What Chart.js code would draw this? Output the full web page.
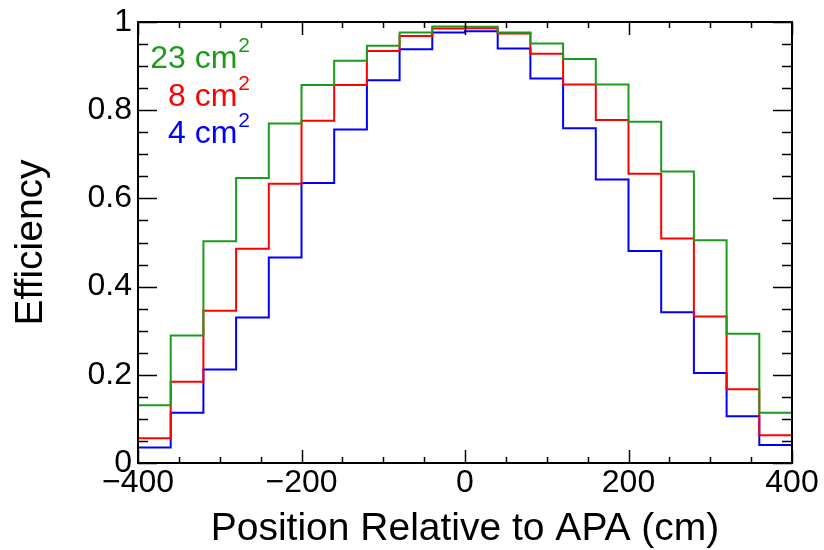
<!DOCTYPE html>
<html>
<head>
<meta charset="utf-8">
<script src="https://cdn.jsdelivr.net/npm/chart.js@4/dist/chart.umd.min.js"></script>
<style>
  html, body { margin: 0; padding: 0; background: #fff; }
  #wrap { width: 824px; height: 550px; }
</style>
</head>
<body>
<div id="wrap"><canvas id="canvas" width="824" height="550"></canvas></div>
<script>
// bin edges (cm), 20 bins of 40 cm
const binEdges = [-400, -360, -320, -280, -240, -200, -160, -120, -80, -40, 0, 40, 80, 120, 160, 200, 240, 280, 320, 360, 400];

const eff23 = [0.131, 0.289, 0.503, 0.646, 0.770, 0.857, 0.912, 0.946, 0.976, 0.990,
               0.989, 0.976, 0.951, 0.916, 0.858, 0.774, 0.661, 0.505, 0.293, 0.114];
const eff8  = [0.056, 0.184, 0.345, 0.486, 0.633, 0.776, 0.857, 0.934, 0.968, 0.985,
               0.986, 0.974, 0.928, 0.858, 0.778, 0.656, 0.509, 0.332, 0.167, 0.063];
const eff4  = [0.035, 0.114, 0.212, 0.330, 0.466, 0.635, 0.756, 0.868, 0.938, 0.976,
               0.979, 0.940, 0.872, 0.759, 0.643, 0.481, 0.342, 0.204, 0.106, 0.041];

const seriesNames = ["23 cm", "8 cm", "4 cm"];
const seriesSup = ["2", "2", "2"];
const seriesColors = ["#1c9a1c", "#ff0000", "#0000ff"];

const xTickValues = [-400, -200, 0, 200, 400];
const xTickLabels = ["\u2212400", "\u2212200", "0", "200", "400"];
const yTickLabels = ["0", "0.2", "0.4", "0.6", "0.8", "1"];

const FONT = "'Liberation Sans', Arial, Helvetica, sans-serif";

// histogram outline: points at the left edge of each bin, closed down to 0
function histPoints(vals) {
  const pts = [{ x: binEdges[0], y: 0 }];
  vals.forEach((v, i) => pts.push({ x: binEdges[i], y: v }));
  pts.push({ x: binEdges[binEdges.length - 1], y: vals[vals.length - 1] });
  pts.push({ x: binEdges[binEdges.length - 1], y: 0 });
  return pts;
}

const allSeries = [eff23, eff8, eff4];

// ROOT-like frame with ticks on all sides + text legend
const framePlugin = {
  id: "frame",
  afterDraw(chart) {
    const { ctx, chartArea: a, scales: { x, y } } = chart;
    ctx.save();
    ctx.strokeStyle = "#000";
    ctx.lineWidth = 1.5;
    ctx.beginPath();
    for (let v = -400; v <= 400; v += 50) {
      const px = Math.round(x.getPixelForValue(v)) + 0.5;
      const len = v % 200 === 0 ? 13 : 6;
      ctx.moveTo(px, a.bottom); ctx.lineTo(px, a.bottom - len);
      ctx.moveTo(px, a.top); ctx.lineTo(px, a.top + len);
    }
    for (let i = 0; i <= 20; i++) {
      const py = Math.round(y.getPixelForValue(i * 0.05)) + 0.5;
      const len = i % 4 === 0 ? 19 : 10;
      ctx.moveTo(a.left, py); ctx.lineTo(a.left + len, py);
      ctx.moveTo(a.right, py); ctx.lineTo(a.right - len, py);
    }
    ctx.stroke();
    ctx.lineWidth = 2;
    ctx.strokeRect(a.left, a.top, a.right - a.left, a.bottom - a.top);

    // legend text
    const rightX = a.left + 112;
    ctx.textBaseline = "alphabetic";
    chart.data.datasets.forEach((ds, i) => {
      const base = a.top + 46 + i * 37.5;
      ctx.fillStyle = ds.borderColor;
      ctx.font = "21px " + FONT;
      ctx.textAlign = "right";
      const supW = ctx.measureText(seriesSup[i]).width;
      ctx.fillText(seriesSup[i], rightX, base - 16);
      ctx.font = "32px " + FONT;
      ctx.fillText(ds.label, rightX - supW - 1, base);
    });
    ctx.restore();
  }
};

new Chart("canvas", {
  type: "line",
  data: {
    datasets: allSeries.map((vals, i) => ({
      label: seriesNames[i],
      data: histPoints(vals),
      borderColor: seriesColors[i],
      borderWidth: 2,
      stepped: "before",
      pointRadius: 0,
      fill: false,
    })),
  },
  options: {
    responsive: false,
    animation: false,
    devicePixelRatio: 1,
    layout: { padding: { left: 0, top: 20, right: 32, bottom: 0 } },
    plugins: { legend: { display: false }, tooltip: { enabled: false } },
    scales: {
      x: {
        type: "linear",
        min: -400,
        max: 400,
        afterFit: (s) => { s.height = 87; },
        afterBuildTicks: (s) => { s.ticks = xTickValues.map((v) => ({ value: v })); },
        grid: { display: false, drawTicks: false },
        border: { display: false },
        ticks: {
          color: "#000",
          padding: 4,
          maxRotation: 0,
          font: { family: FONT, size: 32, lineHeight: 1 },
          callback: (v, i) => xTickLabels[i],
        },
        title: {
          display: true,
          text: "Position Relative to APA (cm)",
          color: "#000",
          font: { family: FONT, size: 39, lineHeight: 1 },
          padding: { top: 0, bottom: 1 },
        },
      },
      y: {
        min: 0,
        max: 1,
        afterFit: (s) => { s.width = 138; },
        afterBuildTicks: (s) => { s.ticks = yTickLabels.map((t, i) => ({ value: i * 0.2 })); },
        grid: { display: false, drawTicks: false },
        border: { display: false },
        ticks: {
          color: "#000",
          padding: 6,
          font: { family: FONT, size: 32, lineHeight: 1 },
          callback: (v, i) => yTickLabels[i],
        },
        title: {
          display: true,
          text: "Efficiency",
          color: "#000",
          font: { family: FONT, size: 39, lineHeight: 1 },
          padding: { top: 12, bottom: 0 },
        },
      },
    },
  },
  plugins: [framePlugin],
});
</script>
</body>
</html>
